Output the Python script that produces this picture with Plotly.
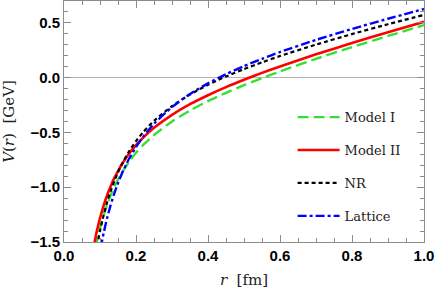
import plotly.graph_objects as go

r = [0.08, 0.09, 0.10, 0.11, 0.12, 0.13, 0.14, 0.15, 0.16, 0.18, 0.20, 0.22,
     0.25, 0.30, 0.35, 0.40, 0.45, 0.50, 0.55, 0.60, 0.70, 0.80, 0.90, 1.00]

model1 = [-1.691, -1.516, -1.373, -1.255, -1.156, -1.070, -0.995, -0.930, -0.871,
          -0.770, -0.686, -0.614, -0.523, -0.400, -0.300, -0.214, -0.138, -0.068,
          -0.004, 0.057, 0.172, 0.279, 0.381, 0.480]
model2 = [-1.590, -1.419, -1.282, -1.167, -1.071, -0.988, -0.915, -0.852, -0.795,
          -0.697, -0.616, -0.547, -0.458, -0.339, -0.242, -0.160, -0.086, -0.019,
          0.044, 0.103, 0.213, 0.316, 0.415, 0.510]
nr = [-1.790, -1.574, -1.400, -1.256, -1.135, -1.032, -0.943, -0.864, -0.795,
      -0.676, -0.579, -0.497, -0.394, -0.260, -0.154, -0.065, 0.011, 0.079,
      0.140, 0.198, 0.302, 0.398, 0.488, 0.573]
lattice = [-2.046, -1.792, -1.588, -1.420, -1.279, -1.158, -1.054, -0.963, -0.882,
           -0.745, -0.633, -0.538, -0.421, -0.268, -0.149, -0.052, 0.032, 0.106,
           0.172, 0.234, 0.345, 0.445, 0.538, 0.627]

x_ticks = [0.0, 0.2, 0.4, 0.6, 0.8, 1.0]
x_ticklabels = ["0.0", "0.2", "0.4", "0.6", "0.8", "1.0"]
y_ticks = [-1.5, -1.0, -0.5, 0.0, 0.5]
y_ticklabels = ["\u22121.5", "\u22121.0", "\u22120.5", "0.0", "0.5"]

series = [
    ("Model I", model1, "#33e033", "11px,5px", 2.4),
    ("Model II", model2, "#ff0000", "solid", 2.6),
    ("NR", nr, "#000000", "4px,3px", 2.2),
    ("Lattice", lattice, "#0000ff", "9px,3px,3px,3px", 2.4),
]

SERIF = "DejaVu Serif"
SANS = "Liberation Sans"

fig = go.Figure()
for i, (name, vals, color, dash, w) in enumerate(series):
    fig.add_trace(go.Scatter(
        x=r, y=vals, mode="lines", name=name, legendgroup=str(i),
        line=dict(color=color, dash=dash, width=w, shape="spline", smoothing=0.6),
    ))

axis_common = dict(
    showline=True, linecolor="#8c8c8c", linewidth=1, mirror="allticks",
    ticks="inside", ticklen=7, tickcolor="#8c8c8c", tickwidth=1,
    showgrid=False, ticklabeloverflow="allow", automargin=False,
    tickfont=dict(family=SANS, size=15, color="black", weight="bold"),
    title_font=dict(family=SERIF, size=15, color="#222"),
)

fig.update_xaxes(
    range=[0, 1], tickvals=x_ticks, ticktext=x_ticklabels,
    minor=dict(dtick=0.05, ticks="inside", ticklen=4, tickcolor="#8c8c8c", showgrid=False),
    zeroline=False, title_text="<i>r</i>  [fm]", title_standoff=11,
    **axis_common,
)
fig.update_yaxes(
    range=[-1.5, 0.7], tickvals=y_ticks, ticktext=y_ticklabels,
    minor=dict(dtick=0.1, tick0=0, ticks="inside", ticklen=4, tickcolor="#8c8c8c", showgrid=False),
    zeroline=True, zerolinecolor="#b4b4b4", zerolinewidth=1,
    title_text="<i>V</i>(<i>r</i>)  [GeV]", title_standoff=13,
    **axis_common,
)

fig.update_layout(
    width=436, height=296,
    margin=dict(l=64, r=12, t=1, b=54),
    plot_bgcolor="white", paper_bgcolor="white",
    legend=dict(
        x=0.635, y=0.58, xanchor="left", yanchor="top",
        bgcolor="rgba(0,0,0,0)", tracegroupgap=13, itemwidth=42,
        font=dict(family=SERIF, size=13, color="#222"),
    ),
)

fig.write_html("out.html", config={"displayModeBar": False},
               post_script="document.body.style.margin='0';")
